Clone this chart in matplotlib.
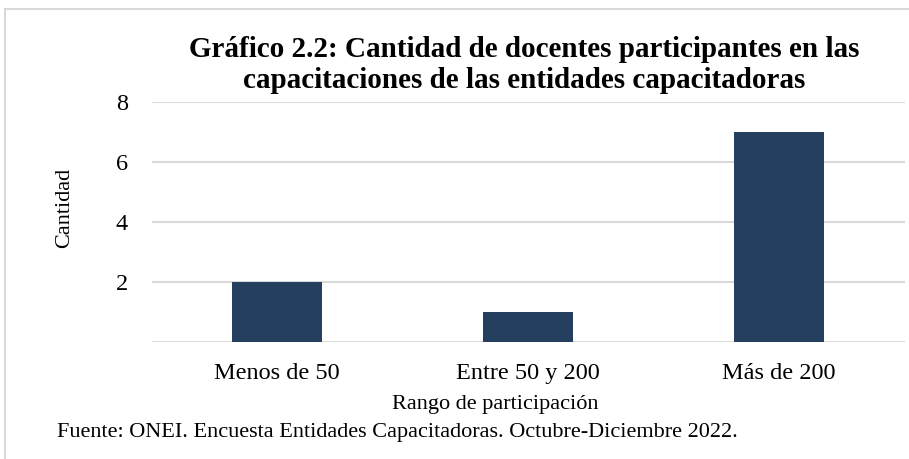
import matplotlib
matplotlib.use("Agg")
import matplotlib.pyplot as plt
from matplotlib.patches import Rectangle

categories = ["Menos de 50", "Entre 50 y 200", "Más de 200"]
values = [2, 1, 7]
yticks = [2, 4, 6, 8]
title_lines = ["Gráfico 2.2: Cantidad de docentes participantes en las",
               "capacitaciones de las entidades capacitadoras"]
xlabel = "Rango de participación"
ylabel = "Cantidad"
source = "Fuente: ONEI. Encuesta Entidades Capacitadoras. Octubre-Diciembre 2022."

W, H = 909, 459
fig = plt.figure(figsize=(W / 100, H / 100), dpi=100)
serif = "Liberation Serif"

# light frame around chart area
fig.patches.append(Rectangle((5 / W, -0.1), 1.2, (H - 9.5) / H + 0.1,
                             transform=fig.transFigure, fill=False,
                             edgecolor="#d9d9d9", linewidth=1.5))

ax_l, ax_r, ax_t, ax_b = 151.5, 904.5, 102, 342
ax = fig.add_axes([ax_l / W, 1 - ax_b / H, (ax_r - ax_l) / W, (ax_b - ax_t) / H])

x = list(range(len(categories)))
ax.bar(x, values, width=0.36, color="#243F60", zorder=3)
ax.set_xlim(-0.5, len(categories) - 0.5)
ax.set_ylim(0, 8)
ax.set_yticks([0] + yticks)
ax.set_yticklabels([""] + [str(v) for v in yticks])
ax.set_xticks(x)
ax.set_xticklabels(categories)
ax.grid(axis="y", color="#d9d9d9", linewidth=1.5, zorder=0)
for s in ax.spines.values():
    s.set_visible(False)
ax.tick_params(axis="both", length=0, labelsize=17.5, colors="black")
ax.tick_params(axis="y", pad=17)
ax.tick_params(axis="x", pad=15)
for lab in ax.get_xticklabels() + ax.get_yticklabels():
    lab.set_fontfamily(serif)

fig.text(495 / W, 1 - 405 / H, xlabel, ha="center", va="center",
         fontsize=16, family=serif)
fig.text(65 / W, 1 - 208 / H, ylabel, ha="center", va="center",
         rotation=90, fontsize=16, family=serif)
for line, base in zip(title_lines, [57, 88]):
    fig.text(524.5 / W, 1 - base / H, line, ha="center", va="baseline",
             fontsize=21, fontweight="bold", family=serif)
fig.text(57 / W, 1 - 433 / H, source, ha="left", va="center",
         fontsize=16, family=serif)

fig.savefig("out.png", dpi=100, facecolor="white")
